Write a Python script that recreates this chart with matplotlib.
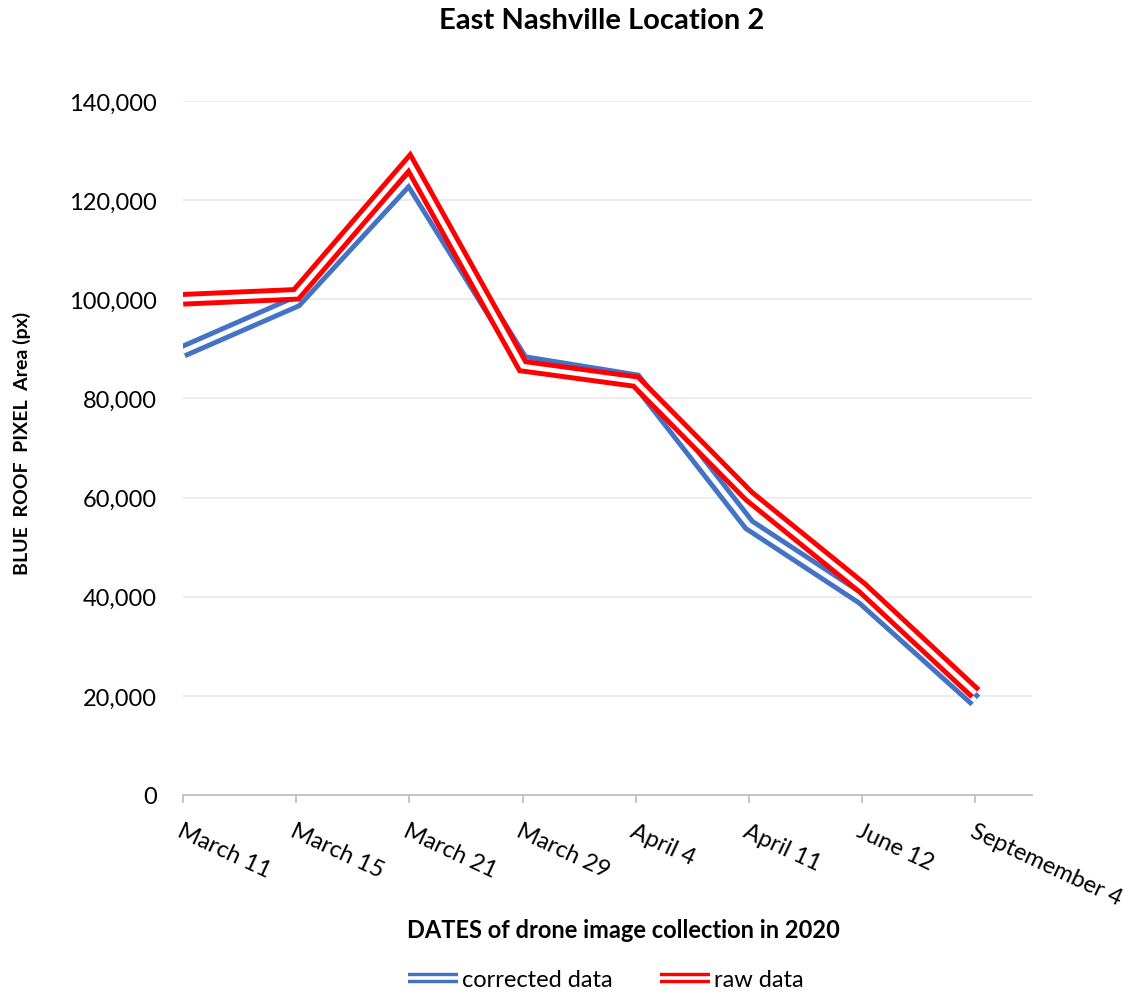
import matplotlib
matplotlib.use("Agg")
import matplotlib.pyplot as plt
from matplotlib.lines import Line2D
from matplotlib.legend_handler import HandlerTuple
from matplotlib.ticker import FuncFormatter, MultipleLocator

plt.rcParams['font.family'] = ['Lato', 'DejaVu Sans']

dates = ["March 11", "March 15", "March 21", "March 29", "April 4",
         "April 11", "June 12", "Septemember 4"]
corrected = [89500, 99500, 124300, 87500, 83800, 54500, 39500, 19000]
raw = [100000, 101000, 127500, 86500, 83400, 60300, 41800, 20500]

BLUE = "#4472C4"
RED = "#FF0000"

fig = plt.figure(figsize=(11.39, 9.95), dpi=100)
ax = fig.add_axes([183 / 1139, 1 - 796 / 995, (1032 - 183) / 1139, (796 - 102) / 995])

x = list(range(len(dates)))


def double_line(values, color):
    # compound "double" stroke: wide coloured line with a thin white core
    ax.plot(x, values, color=color, lw=10.5, solid_joinstyle='miter',
            solid_capstyle='butt', zorder=3)
    ax.plot(x, values, color='white', lw=3.4, solid_joinstyle='miter',
            solid_capstyle='butt', zorder=3)


double_line(corrected, BLUE)
double_line(raw, RED)

ax.set_xlim(0, len(dates) - 0.5)
ax.set_ylim(0, 140000)
ax.yaxis.set_major_locator(MultipleLocator(20000))
ax.yaxis.set_major_formatter(FuncFormatter(lambda v, p: f"{int(v):,}"))
ax.grid(axis='y', color='#EBEBEB', lw=1.3, zorder=0)
ax.set_axisbelow(True)

for s in ['top', 'right', 'left']:
    ax.spines[s].set_visible(False)
ax.spines['bottom'].set_color('#BFBFBF')
ax.spines['bottom'].set_linewidth(1.3)

ax.tick_params(axis='y', length=0, labelsize=17, pad=19, colors='#000000')
ax.tick_params(axis='x', length=6, width=1.3, color='#BFBFBF', pad=12)
ax.set_xticks(x)
ax.set_xticklabels(dates, rotation=-25, ha='left', va='top',
                   rotation_mode='anchor', fontsize=17)

fig.text(602 / 1139, 1 - 21 / 995, "East Nashville Location 2", ha='center',
         va='center', fontsize=21, fontweight='bold')
fig.text(22 / 1139, 1 - 443 / 995, "BLUE  ROOF  PIXEL  Area (px)", rotation=90,
         ha='center', va='center', fontsize=14, fontweight='bold')
fig.text(623 / 1139, 1 - 930 / 995, "DATES of drone image collection in 2020",
         ha='center', va='center', fontsize=17, fontweight='bold')

handles = []
for c in (BLUE, RED):
    outer = Line2D([], [], color=c, lw=7.5, solid_capstyle='butt')
    inner = Line2D([], [], color='white', lw=2.6, solid_capstyle='butt')
    handles.append((outer, inner))

fig.legend(handles, ["corrected data", "raw data"],
           handler_map={tuple: HandlerTuple(ndivide=1, pad=0)},
           loc='center', bbox_to_anchor=(606 / 1139, 1 - 981 / 995),
           ncol=2, frameon=False, fontsize=17, handlelength=2.1,
           columnspacing=2.0, handletextpad=0.2)

fig.savefig("out.png", dpi=100)
